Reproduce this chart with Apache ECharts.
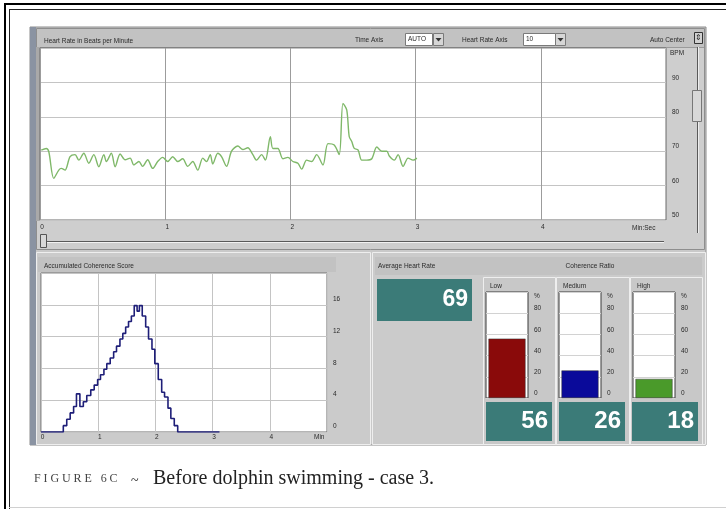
<!DOCTYPE html>
<html>
<head>
<meta charset="utf-8">
<script src="https://cdn.jsdelivr.net/npm/echarts@6/dist/echarts.min.js"></script>
<style>
html, body { margin: 0; padding: 0; background: #fff; }
#wrap { position: relative; width: 726px; height: 509px; overflow: hidden; }
#chart { position: absolute; left: 0; top: 0; width: 726px; height: 509px; }
.cap { position: absolute; font-family: 'Liberation Serif', serif; color: #222; white-space: nowrap; line-height: 1; }
</style>
</head>
<body>
<div id="wrap">
  <div id="chart"></div>
  <span class="cap" style="left:34px;top:472px;font-size:12px;letter-spacing:2.9px;color:#444">FIGURE 6C</span>
  <span class="cap" style="left:131px;top:474px;font-size:14px">~</span>
  <span class="cap" style="left:153px;top:467px;font-size:20px">Before dolphin swimming - case 3.</span>
</div>
<script>
// heart rate trace (minutes, beats per minute)
const hrMinutes = [0.01, 0.05, 0.07, 0.11, 0.15, 0.17, 0.20, 0.24, 0.28, 0.31,
  0.35, 0.39, 0.43, 0.47, 0.51, 0.53, 0.57, 0.60, 0.64, 0.68,
  0.72, 0.75, 0.79, 0.82, 0.86, 0.90, 0.94, 0.98, 1.02, 1.06,
  1.10, 1.14, 1.18, 1.22, 1.26, 1.30, 1.33, 1.36, 1.38, 1.42,
  1.45, 1.49, 1.53, 1.58, 1.62, 1.66, 1.70, 1.73, 1.77, 1.80,
  1.84, 1.86, 1.90, 1.94, 1.98, 2.02, 2.06, 2.09, 2.13, 2.17,
  2.21, 2.26, 2.30, 2.35, 2.39, 2.42, 2.45, 2.47, 2.49, 2.51,
  2.54, 2.57, 2.61, 2.65, 2.69, 2.73, 2.77, 2.79, 2.83, 2.86,
  2.90, 2.94, 2.98, 3.01]
const hrBpm = [70.3, 70.8, 69.9, 62.1, 64.5, 65.0, 64.5, 68.4, 69.0, 67.4,
  69.4, 66.5, 69.0, 65.5, 69.0, 67.0, 69.4, 65.5, 69.2, 67.5,
  68.0, 66.0, 67.0, 65.6, 67.5, 65.0, 67.0, 68.2, 67.0, 68.4,
  67.0, 67.8, 65.6, 67.0, 64.5, 68.0, 67.0, 69.0, 66.3, 69.4,
  68.4, 65.6, 70.0, 71.5, 70.5, 71.0, 69.0, 67.4, 69.0, 67.4,
  74.2, 70.8, 70.8, 67.8, 68.2, 67.0, 66.5, 64.8, 67.4, 67.0,
  69.0, 66.0, 72.2, 71.8, 69.0, 83.9, 82.0, 74.2, 72.8, 70.8,
  70.4, 67.4, 67.4, 67.8, 71.2, 70.0, 70.0, 68.6, 67.4, 69.0,
  65.6, 68.0, 67.4, 68.0]

// accumulated coherence score (step starts, level)
const scoreMinutes = [0, 0.39, 0.45, 0.51, 0.57, 0.62, 0.68, 0.74, 0.80, 0.87,
  0.93, 0.99, 1.04, 1.10, 1.15, 1.21, 1.27, 1.32, 1.38, 1.43,
  1.48, 1.53, 1.58, 1.63, 1.68, 1.72, 1.77, 1.83, 1.88, 1.94,
  1.99, 2.05, 2.11, 2.16, 2.22, 2.27, 2.33, 2.39, 3.12]
const scoreValues = [0, 0.8, 1.6, 2.4, 3.2, 4.8, 3.2, 3.8, 4.6, 5.3,
  5.9, 6.6, 7.2, 7.9, 8.6, 9.3, 10.1, 10.8, 11.7, 12.4,
  13.2, 13.9, 14.6, 15.9, 15.2, 15.9, 14.6, 13.2, 11.7, 10.4,
  8.6, 6.6, 5.0, 4.4, 3.0, 1.7, 0.8, 0, 0]

const ratioNames = ['Low', 'Medium', 'High']
const ratioPct = [56, 26, 18]
const avgHeartRate = 69
const timeTicks = ['0', '1', '2', '3', '4']

const ratioColors = ['#8a0a0a', '#0a0a9a', '#4a9a2a']
const teal = '#3b7b78'
const font = 'Liberation Sans'
const lbl = { fontFamily: font, fontSize: 6.5, color: '#2a2a2a' }

const rect = (x, y, w, h, fill, stroke, z) => ({
    type: 'rect', z: z == null ? -5 : z, silent: true,
    shape: { x, y, width: w, height: h },
    style: { fill, stroke: stroke || null, lineWidth: 1 }
})
const line = (x1, y1, x2, y2, stroke, z) => ({
    type: 'line', z: z == null ? 40 : z, silent: true,
    shape: { x1, y1, x2, y2 }, style: { stroke, lineWidth: 1 }
})
const txt = (x, y, s, o) => ({
    type: 'text', x, y, z: 50, silent: true,
    style: Object.assign({ text: s, fill: '#2a2a2a', fontFamily: font, fontSize: 6.5, align: 'left', verticalAlign: 'middle' }, o || {})
})
const arrow = (x, y) => ({
    type: 'polygon', z: 50, silent: true,
    shape: { points: [[x - 3, y - 1.5], [x + 3, y - 1.5], [x, y + 2]] }, style: { fill: '#333' }
})

const gaugeLeft = [486, 559, 633]
const colX = [483, 556, 630]
const colW = [72, 73, 72]
const numX = [486, 559, 632]

const graphics = [
    // figure frame
    rect(4, 3, 722, 2, '#000', null, 60), rect(4, 3, 2, 506, '#000', null, 60),
    rect(9, 9, 717, 1, '#222', null, 60), rect(9, 9, 1, 500, '#222', null, 60),
    rect(9, 507, 717, 1, '#d0d0d0', null, 60),
    // window
    rect(30, 27, 676, 418, '#c9c9c9', '#8c8c8c'),
    rect(30, 27, 6, 418, '#8a93a2'),
    // top panel
    rect(36.5, 28.5, 668, 221, '#cecece', '#8e8e8e'),
    rect(37, 29, 667, 18, '#c2c2c2'),
    line(37, 47.5, 704, 47.5, '#9a9a9a', -4),
    rect(36, 47, 4, 174, '#a9a9a9', null, -4),
    txt(44, 41, 'Heart Rate in Beats per Minute'),
    txt(355, 40, 'Time Axis'),
    rect(405.5, 33.5, 27, 12, '#fff', '#7a7a7a', 40), txt(408, 39.5, 'AUTO'),
    rect(433.5, 33.5, 10, 12, '#d6d6d6', '#7a7a7a', 40), arrow(438.5, 39.5),
    txt(462, 40, 'Heart Rate Axis'),
    rect(523.5, 33.5, 32, 12, '#fff', '#7a7a7a', 40), txt(526, 39.5, '10'),
    rect(555.5, 33.5, 10, 12, '#d6d6d6', '#7a7a7a', 40), arrow(560.5, 39.5),
    txt(650, 40, 'Auto Center'),
    rect(694.5, 32.5, 8, 11, '#d0d0d0', '#333', 40),
    txt(698.5, 38, '⇕', { align: 'center', fontSize: 8, fill: '#222' }),
    txt(670, 53, 'BPM'),
    txt(632, 228, 'Min:Sec'),
    // scroll bar and slider
    line(697.5, 47, 697.5, 233, '#5a5a5a'), line(698.5, 47, 698.5, 233, '#eeeeee'),
    rect(692.5, 90.5, 9, 31, '#d8d8d8', '#777', 41),
    line(40, 241.5, 664, 241.5, '#5a5a5a'), line(40, 242.5, 664, 242.5, '#f2f2f2'),
    rect(40.5, 234.5, 6, 13, '#d8d8d8', '#555', 41),
    // bottom left panel
    rect(36.5, 252.5, 334, 192, '#cbcbcb', '#eeeeee'),
    rect(38, 257, 298, 15, '#c2c2c2'),
    txt(44, 266, 'Accumulated Coherence Score'),
    txt(314, 437, 'Min'),
    // bottom right panel
    rect(372.5, 252.5, 333, 192, '#cbcbcb', '#eeeeee'),
    rect(375, 257, 327, 18, '#c2c2c2'),
    txt(378, 266, 'Average Heart Rate'),
    txt(590, 266, 'Coherence Ratio', { align: 'center' }),
    rect(377, 279, 95, 42, teal, null, 30),
    txt(468, 300, String(avgHeartRate), { align: 'right', fontSize: 23, fontWeight: 'bold', fill: '#fff' })
]
ratioNames.forEach((n, i) => {
    graphics.push(rect(colX[i] + 0.5, 277.5, colW[i], 167, '#c8c8c8', '#eeeeee', -4))
    graphics.push(txt(colX[i] + 7, 286, n))
    graphics.push(txt(gaugeLeft[i] + 48, 296, '%'))
    graphics.push(rect(numX[i], 402, 66, 39, teal, null, 30))
    graphics.push(txt(numX[i] + 62, 421.5, String(ratioPct[i]), { align: 'right', fontSize: 24, fontWeight: 'bold', fill: '#fff' }))
})

const grids = [
    { left: 40, top: 48, width: 626, height: 172, show: true, backgroundColor: '#fff', borderColor: '#6a6a6a', borderWidth: 1 },
    { left: 41, top: 273, width: 286, height: 159, show: true, backgroundColor: '#fff', borderColor: '#6a6a6a', borderWidth: 1 }
]
gaugeLeft.forEach(l => grids.push({ left: l, top: 292, width: 42, height: 106, show: true, backgroundColor: '#fff', borderColor: '#3a3a3a', borderWidth: 1 }))

const xAxes = [
    {
        gridIndex: 0, type: 'value', min: 0, max: 5, interval: 1,
        axisLine: { show: false }, axisTick: { show: false },
        splitLine: { lineStyle: { color: '#9c9c9c' } },
        axisLabel: Object.assign({ margin: 4, padding: [0, 0, 0, 4], formatter: v => timeTicks[v] || '' }, lbl)
    },
    {
        gridIndex: 1, type: 'value', min: 0, max: 5, interval: 1,
        axisLine: { show: false }, axisTick: { show: false },
        splitLine: { lineStyle: { color: '#c4c4c4' } },
        axisLabel: Object.assign({ margin: 2, padding: [0, 0, 0, 3], formatter: v => timeTicks[v] || '' }, lbl)
    }
]
const yAxes = [
    {
        gridIndex: 0, type: 'value', min: 50, max: 100, interval: 10, position: 'right',
        axisLine: { show: false }, axisTick: { show: false },
        splitLine: { lineStyle: { color: '#c4c4c4' } },
        axisLabel: Object.assign({ margin: 6, verticalAlign: 'bottom', padding: [0, 0, 1, 0], formatter: v => v === 100 ? '' : String(v) }, lbl)
    },
    {
        gridIndex: 1, type: 'value', min: 0, max: 20, interval: 4, position: 'right',
        axisLine: { show: false }, axisTick: { show: false },
        splitLine: { lineStyle: { color: '#c4c4c4' } },
        axisLabel: Object.assign({ margin: 6, verticalAlign: 'bottom', padding: [0, 0, 2, 0], formatter: v => v === 20 ? '' : String(v) }, lbl)
    }
]
ratioNames.forEach((n, i) => {
    xAxes.push({ gridIndex: 2 + i, type: 'category', data: [n], show: false })
    yAxes.push({
        gridIndex: 2 + i, type: 'value', min: 0, max: 100, interval: 20, position: 'right',
        axisLine: { show: false }, axisTick: { show: false },
        splitLine: { lineStyle: { color: '#d2d2d2' } },
        axisLabel: Object.assign({ margin: 6, verticalAlign: 'bottom', padding: [0, 0, 1, 0], formatter: v => v === 100 ? '' : String(v) }, lbl)
    })
})

const series = [
    {
        type: 'line', xAxisIndex: 0, yAxisIndex: 0,
        data: hrMinutes.map((t, i) => [t, hrBpm[i]]),
        showSymbol: false, smooth: 0.3,
        lineStyle: { color: '#7fb869', width: 1.4 }
    },
    {
        type: 'line', xAxisIndex: 1, yAxisIndex: 1, step: 'end',
        data: scoreMinutes.map((t, i) => [t, scoreValues[i]]),
        showSymbol: false,
        lineStyle: { color: '#1e1e78', width: 1.6 }
    }
]
ratioPct.forEach((v, i) => series.push({
    type: 'bar', xAxisIndex: 2 + i, yAxisIndex: 2 + i, data: [v], barWidth: 37,
    itemStyle: { color: ratioColors[i], borderColor: '#333', borderWidth: 0.5 }
}))

const myChart = echarts.init(document.getElementById('chart'))
myChart.setOption({
    animation: false,
    backgroundColor: '#fff',
    grid: grids,
    xAxis: xAxes,
    yAxis: yAxes,
    series: series,
    graphic: { elements: graphics }
})
</script>
</body>
</html>
